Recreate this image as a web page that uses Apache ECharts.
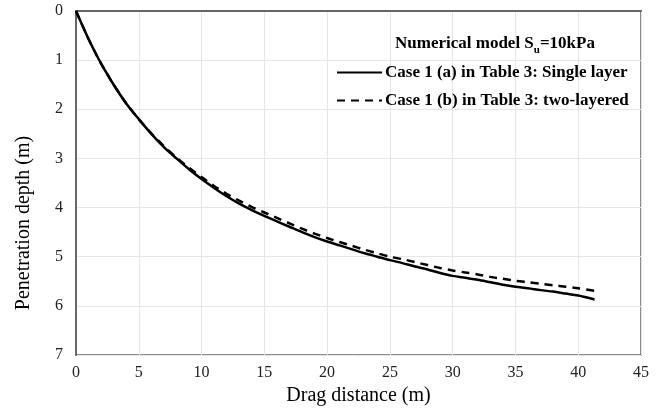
<!DOCTYPE html>
<html><head><meta charset="utf-8">
<script src="https://cdn.jsdelivr.net/npm/echarts@6/dist/echarts.min.js"></script>
<style>html,body{margin:0;padding:0;background:#fff}#c{width:660px;height:408px}</style>
</head><body><div id="c"></div>
<script>
var xTicks = [0,5,10,15,20,25,30,35,40,45];
var yTicks = [0,1,2,3,4,5,6,7];
var singleX = [0,0.5,1,1.5,2,3,4,5,6,7,8,9,10,11,12,13,14,15,16,17,18,19,20,21,22,23,24,25,26,27,28,29,30,31,32,33,34,35,36,37,38,39,40,41.3];
var singleY = [0,0.29,0.57,0.83,1.07,1.5,1.88,2.2,2.5,2.77,3.0,3.22,3.42,3.6,3.77,3.92,4.05,4.17,4.28,4.39,4.5,4.6,4.69,4.77,4.85,4.93,5.0,5.07,5.13,5.2,5.26,5.33,5.39,5.43,5.47,5.52,5.57,5.61,5.64,5.68,5.71,5.75,5.79,5.87];
var twoX = [0,0.5,1,1.5,2,3,4,5,6,7,8,9,10,11,12,13,14,15,16,17,18,19,20,21,22,23,24,25,26,27,28,29,30,31,32,33,34,35,36,37,38,39,40,41.4];
var twoY = [0,0.29,0.57,0.83,1.07,1.5,1.88,2.2,2.49,2.75,2.98,3.19,3.38,3.56,3.72,3.86,3.99,4.1,4.21,4.32,4.43,4.53,4.62,4.7,4.78,4.86,4.93,5.0,5.05,5.11,5.17,5.23,5.28,5.32,5.36,5.41,5.45,5.49,5.52,5.55,5.58,5.61,5.64,5.7];
var seriesNames = ['Case 1 (a) in Table 3: Single layer','Case 1 (b) in Table 3: two-layered'];
var yAxisTitle = 'Penetration depth (m)';

function pairs(xs, ys){ return xs.map(function(x,i){ return [x, ys[i]]; }); }
var F = '"Liberation Serif", "Times New Roman", serif';
var chart = echarts.init(document.getElementById('c'));
chart.setOption({
  animation:false,
  backgroundColor:'#fff',
  grid:{left:76,top:11,right:19,bottom:53,show:true,borderColor:'#666',borderWidth:1.5,backgroundColor:'transparent',outerBoundsMode:'none',containLabel:false},
  title:{
    text:'{a|Numerical model S}{b|u}{a|=10kPa}',
    left:390, top:25,
    textStyle:{rich:{
      a:{fontFamily:F,fontWeight:'bold',fontSize:17,color:'#000',lineHeight:22,verticalAlign:'bottom'},
      b:{fontFamily:F,fontWeight:'bold',fontSize:11,color:'#000',lineHeight:22,verticalAlign:'bottom',padding:[0,0,-4,0]}
    }}
  },
  legend:{
    orient:'vertical', left:331, top:59, itemWidth:45, itemHeight:10, itemGap:11,
    data:seriesNames,
    itemStyle:{opacity:0},
    textStyle:{fontFamily:F,fontWeight:'bold',fontSize:17,color:'#000',padding:[0,0,0,-2]}
  },
  graphic:[{
    type:'text', x:24, y:223, rotation:Math.PI/2,
    style:{text:yAxisTitle, font:'20px "Liberation Serif", serif', fill:'#000', textAlign:'center', textVerticalAlign:'middle'}
  }],
  xAxis:{
    type:'value', min:0, max:45, interval:5,
    name:'Drag distance (m)', nameLocation:'middle', nameGap:30,
    nameTextStyle:{fontFamily:F,fontSize:20,color:'#000'},
    axisLine:{show:true,lineStyle:{color:'#666',width:2}},
    axisTick:{show:false},
    axisLabel:{fontFamily:F,fontSize:16,color:'#222',margin:10,
      formatter:function(v){ return xTicks.indexOf(v)>=0 ? String(v) : ''; }},
    splitLine:{show:true,lineStyle:{color:'#e6e6e6',width:1}}
  },
  yAxis:{
    type:'value', min:0, max:7, interval:1, inverse:true,
    axisLine:{show:true,lineStyle:{color:'#666',width:2}},
    axisTick:{show:false},
    axisLabel:{fontFamily:F,fontSize:16,color:'#222',margin:13,
      formatter:function(v){ return yTicks.indexOf(v)>=0 ? String(v) : ''; }},
    splitLine:{show:true,lineStyle:{color:'#e6e6e6',width:1}}
  },
  series:[
    {name:seriesNames[0], type:'line', data:pairs(singleX,singleY), symbol:'none', smooth:0.3,
      lineStyle:{color:'#000',width:2.5,type:'solid'}, itemStyle:{color:'#000'}},
    {name:seriesNames[1], type:'line', data:pairs(twoX,twoY), symbol:'none', smooth:0.3,
      lineStyle:{color:'#000',width:2.5,type:[8,6]}, itemStyle:{color:'#000'}}
  ]
});
</script></body></html>
